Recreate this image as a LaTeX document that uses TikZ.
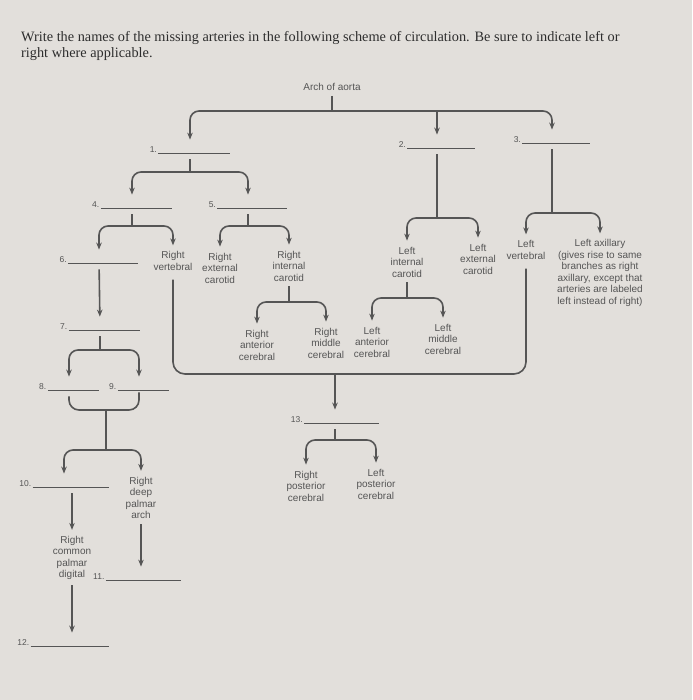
\documentclass[tikz,border=0pt]{standalone}
\usepackage{fontspec}
\setmainfont{Liberation Serif}
\setsansfont{Liberation Sans}
\usepackage{tikz}
\usetikzlibrary{calc,positioning,arrows.meta}
\definecolor{paper}{RGB}{226,223,219}
\definecolor{ink}{RGB}{85,85,85}
\definecolor{titleink}{RGB}{45,45,45}
\newcommand{\blnk}[1]{\,\rule[-0.5pt]{#1pt}{0.6pt}}
\tikzset{%
  font=\sffamily\fontsize{10}{11.5}\selectfont,>={Stealth[length=7pt,width=5.5pt]},
  art/.style={align=center,text=ink,inner sep=1pt},
  blank/.style={font=\sffamily\fontsize{8.5}{10}\selectfont,text=ink,inner sep=2pt},
  stem/.style={draw=ink,line width=1.6pt,shorten <=4pt},
  fork/.style={draw=ink,line width=1.6pt,->,rounded corners=9pt,shorten >=5pt}
}
\begin{document}
\begin{tikzpicture}[x=1pt,y=-1pt]
	\fill[paper] (0,0) rectangle (692,700);
	\useasboundingbox (0,0) rectangle (692,700);
	\node[anchor=north west,inner sep=0pt,align=left,text=titleink,font=\rmfamily\fontsize{14.3}{16.5}\selectfont] (title) at (21,31)
	{Write the names of the missing arteries in the following scheme of circulation. Be sure to indicate left or\\right where applicable.};

	\begin{scope}[every node/.style={blank}]
	\node (n1) at (190,150) {1.\blnk{72}};
	\node (n2) at (437,145) {2.\blnk{68}};
	\node (n3) at (552,140) {3.\blnk{68}};
	\node (n4) at (132,205) {4.\blnk{71}};
	\node (n5) at (248,205) {5.\blnk{70}};
	\node (n6) at (99,260) {6.\blnk{70}};
	\node (n7) at (100,327) {7.\blnk{71}};
	\node (n8) at (69,387) {8.\blnk{51}};
	\node (n9) at (139,387) {9.\blnk{51}};
	\node (n10) at (64,484) {10.\blnk{76}};
	\node (n11) at (137,577) {11.\blnk{75}};
	\node (n12) at (63,643) {12.\blnk{78}};
	\node (n13) at (335,420) {13.\blnk{75}};
	\end{scope}

	\begin{scope}[every node/.style={art}]
	\node (aorta) at (332,87) {Arch of aorta};
	\node (rvert) at (173,261) {Right\\vertebral};
	\node (rext) at (220,268) {Right\\external\\carotid};
	\node (rint) at (289,266) {Right\\internal\\carotid};
	\node (rac) at (257,345) {Right\\anterior\\cerebral};
	\node (rmc) at (326,343) {Right\\middle\\cerebral};
	\node (lic) at (407,262) {Left\\internal\\carotid};
	\node (lec) at (478,259) {Left\\external\\carotid};
	\node (lvert) at (526,250) {Left\\vertebral};
	\node (lax) at (600,273) {Left axillary\\(gives rise to same\\branches as right\\axillary, except that\\arteries are labeled\\left instead of right)};
	\node (lac) at (372,342) {Left\\anterior\\cerebral};
	\node (lmc) at (443,339) {Left\\middle\\cerebral};
	\node (rpc) at (306,486) {Right\\posterior\\cerebral};
	\node (lpc) at (376,484) {Left\\posterior\\cerebral};
	\node (rdpa) at (141,498) {Right\\deep\\palmar\\arch};
	\node (rcpd) at (72,558) {Right\\common\\palmar\\digital};
	\end{scope}

	% arch of aorta
	\coordinate (b0) at (aorta.south |- 0,111);
	\draw[stem] (aorta) -- (b0);
	\draw[fork] (b0) -| (n1);
	\draw[fork] (b0) -| (n3);
	\draw[fork] (b0 -| n2) -- (n2);
	% right side
	\coordinate (b1) at (n1.south |- 0,172);
	\draw[stem] (n1) -- (b1);
	\draw[fork] (b1) -| (n4);
	\draw[fork] (b1) -| (n5);
	\coordinate (b4) at (n4.south |- 0,226);
	\draw[stem] (n4) -- (b4);
	\draw[fork] (b4) -| (n6);
	\draw[fork] (b4) -| (rvert);
	\coordinate (b5) at (n5.south |- 0,226);
	\draw[stem] (n5) -- (b5);
	\draw[fork] (b5) -| (rext);
	\draw[fork] (b5) -| (rint);
	\coordinate (bri) at (rint.south |- 0,302);
	\draw[stem] (rint) -- (bri);
	\draw[fork] (bri) -| (rac);
	\draw[fork] (bri) -| (rmc);
	% arm
	\draw[stem,fork] (n6) -- (n7);
	\coordinate (b7) at (n7.south |- 0,350);
	\draw[stem] (n7) -- (b7);
	\draw[fork] (b7) -| (n8);
	\draw[fork] (b7) -| (n9);
	\coordinate (j89) at (106,410);
	\draw[stem,rounded corners=10pt] (n8) -- (n8 |- j89) -- (n9 |- j89) -- (n9);
	\coordinate (b89) at (106,450);
	\draw[draw=ink,line width=1.6pt] (j89) -- (b89);
	\draw[fork] (b89) -| (n10);
	\draw[fork] (b89) -| (rdpa);
	\draw[stem,fork] (rcpd |- n10.south) -- (rcpd);
	\draw[stem,fork] (rdpa) -- (rdpa |- n11.north);
	\draw[stem,fork] (rcpd) -- (rcpd |- n12.north);
	% left side
	\coordinate (b2) at (n2.south |- 0,218);
	\draw[stem] (n2) -- (b2);
	\draw[fork] (b2) -| (lic);
	\draw[fork] (b2) -| (lec);
	\coordinate (b3) at (n3.south |- 0,213);
	\draw[stem] (n3) -- (b3);
	\draw[fork] (b3) -| (lvert);
	\draw[fork] (b3) -| (lax);
	\coordinate (bli) at (lic.south |- 0,298);
	\draw[stem] (lic) -- (bli);
	\draw[fork] (bli) -| (lac);
	\draw[fork] (bli) -| (lmc);
	% vertebrals join
	\coordinate (bv) at (n13.north |- 0,374);
	\draw[stem,rounded corners=12pt,shorten <=8pt,shorten >=8pt] (rvert) -- (rvert |- bv) -- (lvert |- bv) -- (lvert);
	\draw[fork] (bv) -- (n13);
	\coordinate (b13) at (n13.south |- 0,440);
	\draw[stem] (n13) -- (b13);
	\draw[fork] (b13) -| (rpc);
	\draw[fork] (b13) -| (lpc);
\end{tikzpicture}
\end{document}
